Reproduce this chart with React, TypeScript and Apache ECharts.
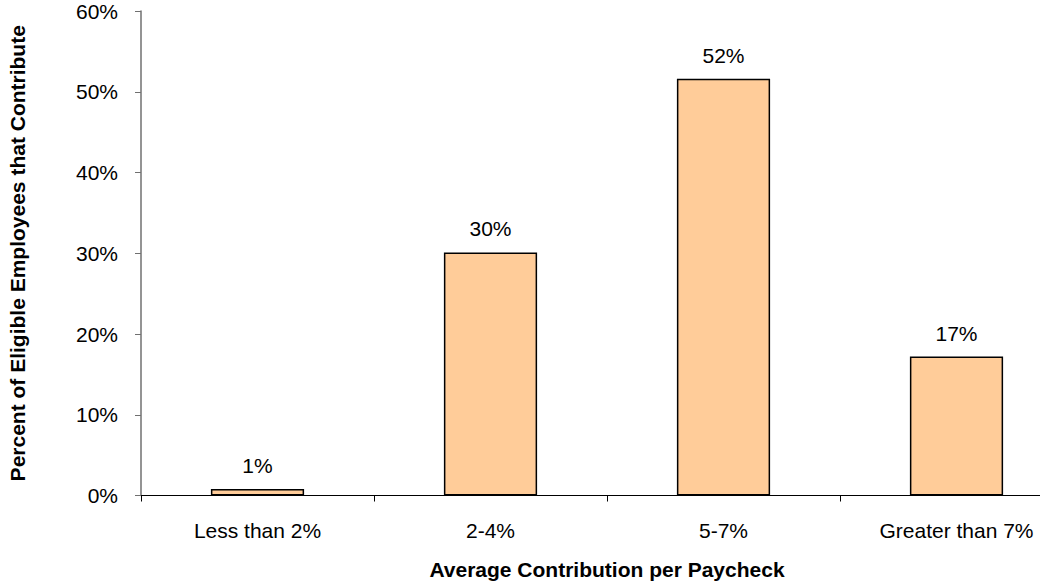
import React, { useEffect, useRef } from "react";
import * as echarts from "echarts";

const categories = ["Less than 2%", "2-4%", "5-7%", "Greater than 7%"];
const values = [0.8, 30.1, 51.6, 17.2];
const yTicks = [0, 10, 20, 30, 40, 50, 60];

export default function App() {
  const ref = useRef<HTMLDivElement>(null);
  useEffect(() => {
    const chart = echarts.init(ref.current!, null, { renderer: "svg" });
    const font = "'Liberation Sans', Arial, sans-serif";
    chart.setOption({
      animation: false,
      textStyle: { fontFamily: font },
      grid: {
        left: 141,
        top: 11,
        bottom: 85.5,
        right: -33,
        containLabel: false,
        outerBoundsMode: "none",
      },
      xAxis: {
        type: "category",
        data: categories,
        name: "Average Contribution per Paycheck",
        nameLocation: "middle",
        nameGap: 63,
        nameTextStyle: { fontFamily: font, fontSize: 21, fontWeight: "bold", color: "#000" },
        axisLine: { lineStyle: { color: "#000", width: 1 } },
        axisTick: { show: true, alignWithLabel: false, length: 6, lineStyle: { color: "#000" } },
        axisLabel: { fontFamily: font, fontSize: 21, color: "#000", margin: 24 },
      },
      yAxis: {
        type: "value",
        min: yTicks[0],
        max: yTicks[yTicks.length - 1],
        interval: 10,
        name: "Percent of Eligible Employees that Contribute",
        nameLocation: "middle",
        nameGap: 113,
        nameRotate: 90,
        nameTextStyle: { fontFamily: font, fontSize: 21, fontWeight: "bold", color: "#000" },
        axisLine: { show: true, lineStyle: { color: "#707070", width: 1.5 } },
        axisTick: { show: true, length: 6, lineStyle: { color: "#707070" } },
        splitLine: { show: false },
        axisLabel: {
          fontFamily: font,
          fontSize: 21,
          color: "#000",
          margin: 23,
          formatter: (v: number) => `${v}%`,
        },
      },
      series: [
        {
          type: "bar",
          data: values,
          barCategoryGap: "60%",
          itemStyle: { color: "#FFCC99", borderColor: "#000", borderWidth: 1.5 },
          label: {
            show: true,
            position: "top",
            distance: 13,
            fontFamily: font,
            fontSize: 21,
            color: "#000",
            formatter: (p: any) => `${Math.round(p.value)}%`,
          },
        },
      ],
    });
    return () => chart.dispose();
  }, []);
  return <div ref={ref} style={{ width: 1040, height: 581, position: "absolute", left: 0, top: 0 }} />;
}
